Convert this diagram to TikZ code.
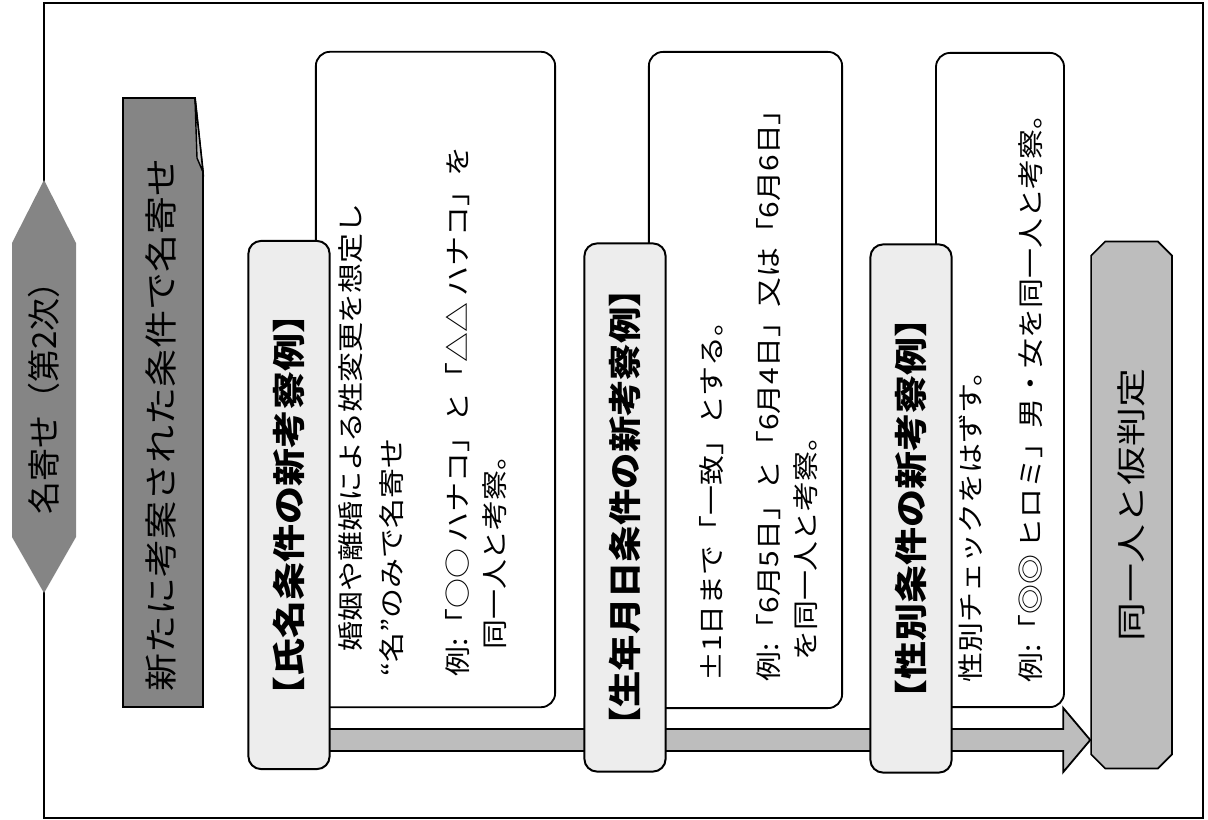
\documentclass[tikz,border=0pt]{standalone}
\usepackage{fontspec}
\setmainfont{Noto Sans CJK JP}
\usepackage{graphicx}
\usepackage{tikz}
\usetikzlibrary{calc,shapes.misc}
\newcommand{\Wide}[2]{\scalebox{#1}[1]{#2}}
\definecolor{hatchdark}{gray}{0.52}
\definecolor{hatchmid}{gray}{0.74}
\definecolor{stipple}{gray}{0.93}

\begin{document}
\begin{tikzpicture}[x=0.025cm,y=-0.025cm]
			\tikzstyle{frameline} = [draw, line width=1.2pt]
			\tikzstyle{titlebox} = [draw, line width=1.4pt, fill=stipple, rounded corners=9pt, rotate=90,
				minimum width=13.2cm, minimum height=2.03cm, inner sep=0pt, font=\fontsize{23.5}{28}\selectfont\bfseries]
			\tikzstyle{notebox} = [draw, line width=1.3pt, fill=white, rounded corners=10pt, rotate=90, inner sep=0pt]
			\tikzstyle{bodytext} = [rotate=90, anchor=north west, inner sep=0pt, font=\fontsize{18.5}{26.2}\selectfont]
			\tikzstyle{arrowfill} = [draw, line width=1.3pt, fill=hatchmid]
			\useasboundingbox (0,0) rectangle (1208,820);

			\draw[frameline] (44,3) rectangle (1203,818);
			% stage label
			\fill[hatchdark] (44,180) -- (76,243) -- (76,537) -- (44,593) -- (12,537) -- (12,243) -- cycle;
			\node(stageLabel)[rotate=90, font=\fontsize{23.5}{28}\selectfont] at (44,390) {名寄せ（第2次）};
			% banner with folded corner
			\draw[line width=1.3pt, fill=hatchdark] (123,98) -- (195,98) -- (203,172) -- (203,707) -- (123,707) -- cycle;
			\draw[line width=1pt, fill=hatchmid] (195,98) -- (197,158) -- (203,172) -- cycle;
			\node(bannerLabel)[rotate=90, font=\fontsize{23.5}{28}\selectfont] at (161,425) {\Wide{1.15}{新たに考案された条件で名寄せ}};

			\node(finalBox)[draw, line width=1.2pt, fill=hatchmid, chamfered rectangle, chamfered rectangle xsep=5pt, chamfered rectangle ysep=5pt,
				rotate=90, minimum width=13.17cm, minimum height=2.02cm, inner sep=0pt, font=\fontsize{21}{26}\selectfont] at (1131.5,505) {\Wide{1.32}{同一人と仮判定}};

			\coordinate(arrowstart) at (250,740);
			\coordinate(tip) at (finalBox.north |- arrowstart);
			\draw[arrowfill] ($(arrowstart)+(0,-11)$) -- ($(tip)+(-27,-11)$) -- ($(tip)+(-27,-32)$) -- (tip)
				-- ($(tip)+(-27,32)$) -- ($(tip)+(-27,11)$) -- ($(arrowstart)+(0,11)$) -- cycle;

			\node(nameNote)[notebox, minimum width=16.38cm, minimum height=5.98cm] at (435.5,379.5) {};
			\node(birthNote)[notebox, minimum width=16.4cm, minimum height=4.83cm] at (745.5,380) {};
			\node(sexNote)[notebox, minimum width=16.35cm, minimum height=3.2cm] at (1000,380) {};

			\node(nameTitle)[titlebox] at (289,505) {\Wide{1.15}{【氏名条件の新考察例】}};
			\node(birthTitle)[titlebox] at (625,507.5) {\Wide{1.1}{【生年月日条件の新考察例】}};
			\node(sexTitle)[titlebox] at (911,508.5) {\Wide{1.15}{【性別条件の新考察例】}};

			\node(nameText)[bodytext] at (334,677) {\Wide{1.15}{\begin{tabular}{@{}l@{}}
				\hspace*{0.85em}婚姻や離婚による姓変更を想定し\\[0.125cm]
				“名”のみで名寄せ\\[0.725cm]
				例:「○○ ハナコ」と「△△ ハナコ」を\\
				\hspace*{0.9em}同一人と考察。\end{tabular}}};
			\node(birthText)[bodytext] at (695,682) {\Wide{1.15}{\begin{tabular}{@{}l@{}}
				±1日まで「一致」とする。\\[0.525cm]
				例:「6月5日」と「6月4日」又は「6月6日」\\
				\hspace*{0.7em}を同一人と考察。\end{tabular}}};
			\node(sexText)[bodytext] at (954,683) {\Wide{1.15}{\begin{tabular}{@{}l@{}}
				性別チェックをはずす。\\[0.6cm]
				例:「◎◎ ヒロミ」男・女を同一人と考察。\end{tabular}}};

		\end{tikzpicture}
\end{document}
